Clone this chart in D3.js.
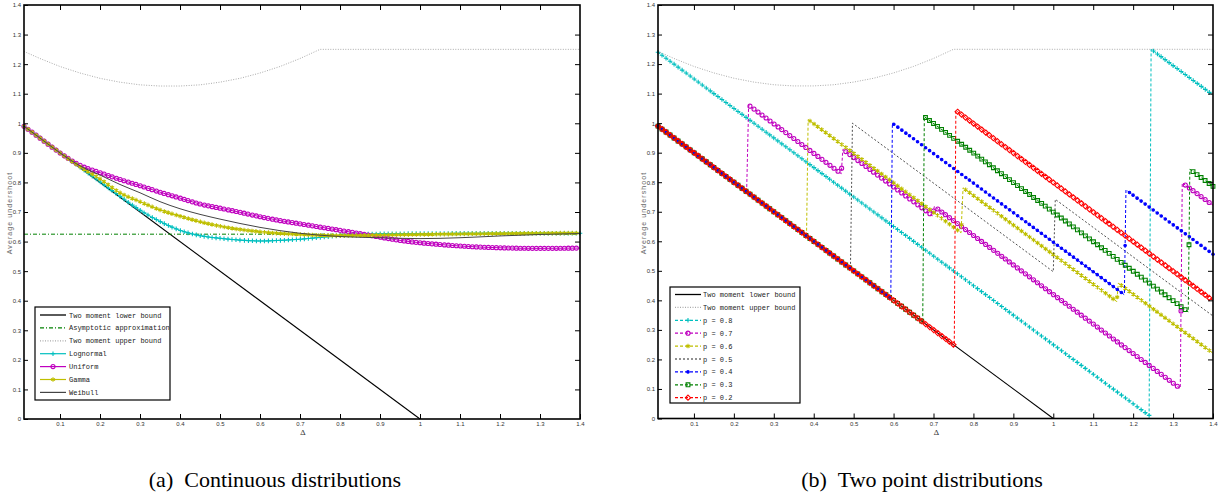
<!DOCTYPE html>
<html>
<head>
<meta charset="utf-8">
<script src="https://cdn.jsdelivr.net/npm/d3@7"></script>
<style>
  body { margin: 0; background: #fff; }
  .tick text { font-family: "Liberation Sans", sans-serif; font-size: 6px; fill: #333; }
  .legend text { font-family: "Liberation Mono", monospace; font-size: 7px; fill: #222; }
</style>
</head>
<body>
<svg id="chart" width="1226" height="497"></svg>
<script>
// axis ticks
const xTicks = [0.1, 0.2, 0.3, 0.4, 0.5, 0.6, 0.7, 0.8, 0.9, 1.0, 1.1, 1.2, 1.3, 1.4]
const xTickLabels = ['0.1', '0.2', '0.3', '0.4', '0.5', '0.6', '0.7', '0.8', '0.9', '1', '1.1', '1.2', '1.3', '1.4']
const yTicks = [0, 0.1, 0.2, 0.3, 0.4, 0.5, 0.6, 0.7, 0.8, 0.9, 1.0, 1.1, 1.2, 1.3, 1.4]
const yTickLabels = ['0', '0.1', '0.2', '0.3', '0.4', '0.5', '0.6', '0.7', '0.8', '0.9', '1', '1.1', '1.2', '1.3', '1.4']

// bounds (both panels)  [delta, undershoot]
const lowerBound = [[0.01, 0.99], [1.0, 0.0]]
const upperBound = [[0.01, 1.243], [0.05, 1.219], [0.1, 1.192], [0.15, 1.170], [0.2, 1.152], [0.25, 1.139],
  [0.3, 1.130], [0.35, 1.126], [0.4, 1.126], [0.45, 1.130], [0.5, 1.139], [0.55, 1.152], [0.6, 1.170],
  [0.65, 1.192], [0.7, 1.219], [0.75, 1.25], [1.4, 1.25]]
const asymptotic = [[0.01, 0.625], [1.4, 0.625]]

// (a) continuous distributions
const lognormal = [[0.01, 0.99], [0.05, 0.95], [0.1, 0.90], [0.15, 0.852], [0.2, 0.802], [0.25, 0.753],
  [0.3, 0.706], [0.35, 0.668], [0.4, 0.638], [0.45, 0.620], [0.5, 0.611], [0.55, 0.605], [0.6, 0.602],
  [0.65, 0.604], [0.7, 0.608], [0.75, 0.614], [0.8, 0.620], [0.85, 0.624], [0.9, 0.626], [1.0, 0.627],
  [1.2, 0.628], [1.4, 0.628]]
const uniform = [[0.01, 0.99], [0.05, 0.95], [0.1, 0.90], [0.15, 0.858], [0.2, 0.833], [0.25, 0.810],
  [0.3, 0.789], [0.35, 0.767], [0.4, 0.747], [0.45, 0.727], [0.5, 0.713], [0.55, 0.699], [0.6, 0.684],
  [0.65, 0.671], [0.7, 0.660], [0.75, 0.649], [0.8, 0.638], [0.85, 0.627], [0.9, 0.615], [0.95, 0.604],
  [1.0, 0.596], [1.05, 0.590], [1.1, 0.585], [1.2, 0.579], [1.3, 0.577], [1.4, 0.578]]
const gamma = [[0.01, 0.99], [0.05, 0.95], [0.1, 0.90], [0.15, 0.853], [0.2, 0.812], [0.25, 0.765],
  [0.3, 0.735], [0.35, 0.707], [0.4, 0.686], [0.45, 0.667], [0.5, 0.652], [0.6, 0.633], [0.7, 0.624],
  [0.8, 0.620], [0.9, 0.622], [1.0, 0.624], [1.2, 0.627], [1.4, 0.629]]
const weibull = [[0.01, 0.99], [0.05, 0.95], [0.1, 0.90], [0.15, 0.856], [0.2, 0.825], [0.25, 0.793],
  [0.3, 0.765], [0.35, 0.735], [0.4, 0.711], [0.45, 0.692], [0.5, 0.676], [0.6, 0.648], [0.7, 0.628],
  [0.8, 0.617], [0.9, 0.613], [1.0, 0.610], [1.1, 0.613], [1.2, 0.619], [1.3, 0.624], [1.4, 0.627]]

// (b) two point distributions, vertices of each sawtooth
const p08 = [[0.01, 1.24], [1.24, 0.01], [1.245, 1.25], [1.4, 1.095]]
const p07 = [[0.01, 0.99], [0.232, 0.768], [0.237, 1.061], [0.469, 0.829], [0.473, 0.911], [0.698, 0.686],
  [0.702, 0.718], [1.318, 0.102], [1.323, 0.798], [1.4, 0.722]]
const p06 = [[0.01, 0.99], [0.382, 0.618], [0.386, 1.012], [0.769, 0.629], [0.774, 0.781], [1.159, 0.396],
  [1.163, 0.458], [1.4, 0.221]]
const p05 = [[0.01, 0.99], [0.492, 0.508], [0.497, 1.0], [1.0, 0.497], [1.005, 0.742], [1.4, 0.347]]
const p04 = [[0.01, 0.99], [0.593, 0.407], [0.597, 1.0], [1.178, 0.419], [1.182, 0.774], [1.4, 0.556]]
const p03 = [[0.01, 0.99], [0.673, 0.327], [0.677, 1.022], [1.338, 0.361], [1.342, 0.844], [1.4, 0.786]]
const p02 = [[0.01, 0.99], [0.752, 0.248], [0.756, 1.043], [1.4, 0.399]]

const svg = d3.select('#chart')

// marker symbols (MATLAB style)
const mk = {
    plus: { type: d3.symbolPlus || d3.symbolCross, size: 8, fill: false },
    circle: { type: d3.symbolCircle, size: 13, fill: false },
    star: { type: d3.symbolAsterisk || d3.symbolStar, size: 14, fill: false },
    dot: { type: d3.symbolCircle, size: 5, fill: true },
    square: { type: d3.symbolSquare2 || d3.symbolSquare, size: 18, fill: false },
    diamond: { type: d3.symbolDiamond2 || d3.symbolDiamond, size: 17, fill: false }
}

const panelA = {
    x0: 24, x1: 580, y0: 419, y1: 5,
    caption: '(a)\u2002Continuous distributions', capX: 275,
    legend: { x: 35, y: 307, w: 135, h: 93, row0: 315, rowGap: 12.9, lineX0: 40, lineX1: 66, textX: 69 },
    series: [
        { name: 'Two moment lower bound', data: lowerBound, color: '#000', width: 1.1 },
        { name: 'Asymptotic approximation', data: asymptotic, color: '#008000', width: 1, dash: '4,2,1,2' },
        { name: 'Two moment upper bound', data: upperBound, color: '#aaa', width: 1, dash: '1,1.5' },
        { name: 'Lognormal', data: lognormal, color: '#00bfbf', width: 1, marker: 'plus', curve: true },
        { name: 'Uniform', data: uniform, color: '#bf00bf', width: 1, marker: 'circle', curve: true },
        { name: 'Gamma', data: gamma, color: '#bfbf00', width: 1, marker: 'star', curve: true },
        { name: 'Weibull', data: weibull, color: '#444', width: 1, curve: true }
    ]
}

const panelB = {
    x0: 658, x1: 1213, y0: 418.5, y1: 5,
    caption: '(b)\u2002Two point distributions', capX: 922,
    legend: { x: 670, y: 287, w: 130, h: 116, row0: 294.5, rowGap: 12.9, lineX0: 675, lineX1: 701, textX: 703 },
    series: [
        { name: 'Two moment lower bound', data: lowerBound, color: '#000', width: 1.1 },
        { name: 'Two moment upper bound', data: upperBound, color: '#aaa', width: 1, dash: '1,1.5' },
        { name: 'p = 0.8', data: p08, color: '#00bfbf', width: 1, dash: '3,2', marker: 'plus' },
        { name: 'p = 0.7', data: p07, color: '#bf00bf', width: 1, dash: '3,2', marker: 'circle' },
        { name: 'p = 0.6', data: p06, color: '#bfbf00', width: 1, dash: '3,2', marker: 'star' },
        { name: 'p = 0.5', data: p05, color: '#222', width: 0.8, dash: '2,2' },
        { name: 'p = 0.4', data: p04, color: '#0000ff', width: 1, dash: '3,2', marker: 'dot' },
        { name: 'p = 0.3', data: p03, color: '#008000', width: 1, dash: '3,2', marker: 'square' },
        { name: 'p = 0.2', data: p02, color: '#ff0000', width: 1, dash: '3,2', marker: 'diamond' }
    ]
}

//walk along the drawn path, one marker each time x passes the next 0.01 step
function markerPoints(node, startX, step) {
    let total = node.getTotalLength(),
        pts = [],
        next = startX
    for (let l = 0; l <= total + 0.25; l += 0.5) {
        let p = node.getPointAtLength(Math.min(l, total))
        if (p.x >= next - 0.05) {
            pts.push([p.x, p.y])
            next += step
        }
    }
    return pts
}

function drawMarkers(g, pts, s, color) {
    let m = mk[s]
    g.selectAll(null)
        .data(pts)
        .enter()
        .append('path')
        .attr('transform', d => `translate(${d[0]},${d[1]})`)
        .attr('d', d3.symbol().type(m.type).size(m.size))
        .style('fill', m.fill ? color : 'none')
        .style('stroke', color)
        .attr('stroke-width', 1.1)
}

function drawPanel(panel) {
    let x = d3.scaleLinear().domain([0.01, 1.4]).range([panel.x0, panel.x1]),
        y = d3.scaleLinear().domain([0, 1.4]).range([panel.y0, panel.y1])

    let g = svg.append('g')

    //data
    let plot = g.append('g')
    panel.series.forEach(function (s) {
        let line = d3.line().x(d => x(d[0])).y(d => y(d[1]))
        if (s.curve) line.curve(d3.curveMonotoneX)
        let path = plot.append('path')
            .attr('d', line(s.data))
            .style('fill', 'none')
            .style('stroke', s.color)
            .attr('stroke-width', s.width)
            .attr('stroke-dasharray', s.dash || null)
        if (s.marker) {
            let pts = markerPoints(path.node(), x(0.01), x(0.02) - x(0.01))
            drawMarkers(plot, pts, s.marker, s.color)
        }
    })

    //axes, ticks pointing inward on all four sides
    let fmtX = (d, i) => xTickLabels[i],
        fmtY = (d, i) => yTickLabels[i]
    g.append('g').attr('transform', `translate(0,${panel.y0})`)
        .call(d3.axisBottom(x).tickValues(xTicks).tickFormat(fmtX).tickSizeInner(-5).tickSizeOuter(0).tickPadding(3))
    g.append('g').attr('transform', `translate(0,${panel.y1})`)
        .call(d3.axisTop(x).tickValues(xTicks.slice(0, -1)).tickFormat('').tickSizeInner(-5).tickSizeOuter(0))
    g.append('g').attr('transform', `translate(${panel.x0},0)`)
        .call(d3.axisLeft(y).tickValues(yTicks).tickFormat(fmtY).tickSizeInner(-4).tickSizeOuter(0).tickPadding(3))
    g.append('g').attr('transform', `translate(${panel.x1},0)`)
        .call(d3.axisRight(y).tickValues(yTicks.slice(1, -1)).tickFormat('').tickSizeInner(-5).tickSizeOuter(0))
    g.selectAll('.domain').remove()
    g.selectAll('.tick line').attr('stroke', '#000').attr('stroke-width', 1)

    g.append('rect')
        .attr('x', panel.x0).attr('y', panel.y1)
        .attr('width', panel.x1 - panel.x0).attr('height', panel.y0 - panel.y1)
        .style('fill', 'none').style('stroke', '#000').attr('stroke-width', 1.6)

    //axis titles
    let midX = (panel.x0 + panel.x1) / 2
    g.append('text')
        .attr('x', midX + 1).attr('y', panel.y0 + 16)
        .attr('text-anchor', 'middle')
        .style('font-family', '"DejaVu Serif", serif').style('font-size', '8px').style('fill', '#333')
        .text('Δ')
    g.append('text')
        .attr('transform', `translate(${panel.x0 - 12},213) rotate(-90)`)
        .attr('text-anchor', 'middle')
        .style('font-family', '"Liberation Sans", sans-serif').style('font-size', '7px')
        .style('letter-spacing', '1.1px').style('fill', '#666')
        .text('Average undershoot')

    //legend
    let L = panel.legend
    let leg = g.append('g').attr('class', 'legend')
    leg.append('rect')
        .attr('x', L.x).attr('y', L.y).attr('width', L.w).attr('height', L.h)
        .style('fill', '#fff').style('stroke', '#000').attr('stroke-width', 1.2)
    panel.series.forEach(function (s, i) {
        let ry = L.row0 + i * L.rowGap
        leg.append('line')
            .attr('x1', L.lineX0).attr('x2', L.lineX1).attr('y1', ry).attr('y2', ry)
            .style('stroke', s.color).attr('stroke-width', s.width + 0.2)
            .attr('stroke-dasharray', s.dash || null)
        if (s.marker) drawMarkers(leg, [[(L.lineX0 + L.lineX1) / 2, ry]], s.marker, s.color)
        leg.append('text')
            .attr('x', L.textX).attr('y', ry + 2.5)
            .text(s.name)
    })

    //caption
    svg.append('text')
        .attr('x', panel.capX).attr('y', 487)
        .attr('text-anchor', 'middle')
        .style('font-family', '"Liberation Serif", serif').style('font-size', '22px').style('fill', '#000')
        .text(panel.caption)
}

drawPanel(panelA)
drawPanel(panelB)
</script>
</body>
</html>
